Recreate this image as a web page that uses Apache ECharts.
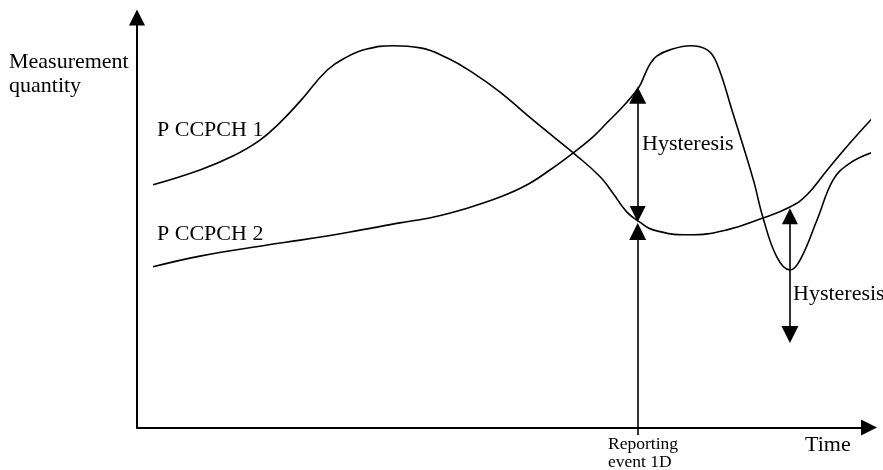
<!DOCTYPE html>
<html>
<head>
<meta charset="utf-8">
<script src="https://cdn.jsdelivr.net/npm/echarts@6/dist/echarts.min.js"></script>
<style>
  html, body { margin: 0; padding: 0; background: #fff; }
  #chart { width: 883px; height: 470px; }
</style>
</head>
<body>
<div id="chart"></div>
<script>
// curves, time vs measurement quantity (arbitrary units 0..100)
const ccpch1Time = [2.2, 8.6, 13.1, 16.8, 19.5, 22.3, 26.0, 28.7, 31.4, 35.0, 38.7, 42.4, 45.9, 49.6, 53.3, 57.8, 59.6, 63.3, 65.0, 66.9, 68.7, 70.5, 75.3, 80.6, 85.5, 89.2, 91.5, 94.3, 97.4, 101.1]
const ccpch1Level = [59.2, 62.8, 66.2, 70.1, 74.3, 79.6, 87.2, 90.4, 92.3, 93.1, 92.6, 90.1, 86.5, 81.8, 76.2, 69.6, 67.0, 61.1, 57.2, 52.6, 50.1, 48.2, 47.0, 48.2, 51.1, 53.8, 56.7, 62.8, 69.4, 76.7]
const ccpch2Time = [2.2, 8.6, 17.8, 22.3, 29.1, 35.9, 40.4, 45.1, 49.6, 53.3, 56.4, 59.6, 62.3, 64.3, 66.7, 68.6, 69.4, 70.1, 71.0, 72.8, 75.6, 77.9, 79.2, 81.4, 84.2, 85.5, 87.4, 89.2, 90.6, 92.9, 95.1, 97.4, 100.6]
const ccpch2Level = [39.2, 41.8, 44.5, 45.7, 47.7, 49.9, 51.3, 53.5, 56.2, 59.2, 62.8, 67.0, 70.9, 74.5, 78.9, 83.1, 86.2, 88.7, 90.6, 92.1, 93.1, 92.1, 88.9, 76.7, 60.4, 51.3, 41.6, 38.4, 40.9, 50.6, 60.4, 64.5, 67.2]

// arrows: time, and level at each end (arrow tips)
const reportTime = 68.4
const reportArrow = [-1.8, 49.9]
const hyst1Arrow = [50.0, 83.1]
const hyst2Time = 89.2
const hyst2Arrow = [53.6, 20.6]

const serif = 'Liberation Serif, Times New Roman, serif'
const headLen = 17
const headHalf = 8.5 / 4.1 // half arrow head in level units (plot is 410px tall for 100)

function pairs(xs, ys) {
  return xs.map((x, i) => [x, ys[i]])
}

// pull an arrow tip back so the head's point sits on the tip value
function inward(from, to) {
  const dir = to > from ? 1 : -1
  return [from + dir * headHalf, to - dir * headHalf]
}

function label(text, x, y, size) {
  return {
    type: 'text', x: x, y: y,
    style: { text: text, font: (size || 22) + 'px ' + serif, fill: '#000', verticalAlign: 'middle' }
  }
}

const h1 = inward(hyst1Arrow[0], hyst1Arrow[1])
const h2 = inward(hyst2Arrow[0], hyst2Arrow[1])

const chart = echarts.init(document.getElementById('chart'))
chart.setOption({
  animation: false,
  grid: { left: 137, right: 14, top: 17.5, bottom: 42.5 },
  xAxis: {
    type: 'value', min: 0, max: 100,
    axisLine: { show: true, lineStyle: { color: '#000', width: 2 }, symbol: ['none', 'triangle'], symbolSize: [16, 16] },
    axisTick: { show: false }, axisLabel: { show: false }, splitLine: { show: false }
  },
  yAxis: {
    type: 'value', min: 0, max: 100,
    axisLine: { show: true, lineStyle: { color: '#000', width: 2 }, symbol: ['none', 'triangle'], symbolSize: [16, 16] },
    axisTick: { show: false }, axisLabel: { show: false }, splitLine: { show: false }
  },
  series: [
    {
      name: 'P CCPCH 1', type: 'line', data: pairs(ccpch1Time, ccpch1Level),
      smooth: 0.45, showSymbol: false, clip: false,
      lineStyle: { color: '#000', width: 1.6 }
    },
    {
      name: 'P CCPCH 2', type: 'line', data: pairs(ccpch2Time, ccpch2Level),
      smooth: 0.4, showSymbol: false, clip: false,
      lineStyle: { color: '#000', width: 1.6 }
    },
    {
      type: 'lines', coordinateSystem: 'cartesian2d', clip: false,
      symbolSize: [16, headLen],
      lineStyle: { color: '#000', width: 1.6, opacity: 1 },
      data: [
        { coords: [[reportTime, reportArrow[0]], [reportTime, reportArrow[1] - headHalf]], symbol: ['none', 'triangle'] },
        { coords: [[reportTime, h1[0]], [reportTime, h1[1]]], symbol: ['triangle', 'triangle'] },
        { coords: [[hyst2Time, h2[0]], [hyst2Time, h2[1]]], symbol: ['triangle', 'triangle'] }
      ]
    }
  ],
  graphic: [
    label('Measurement', 9, 62.5),
    label('quantity', 9, 86.5),
    label('P CCPCH 1', 157, 130.5),
    label('P CCPCH 2', 157, 234.5),
    label('Hysteresis', 642, 144.5),
    label('Hysteresis', 793, 294.5),
    label('Time', 805, 445.5),
    label('Reporting', 608, 444, 17.5),
    label('event 1D', 608, 462, 17.5)
  ]
})
</script>
</body>
</html>
